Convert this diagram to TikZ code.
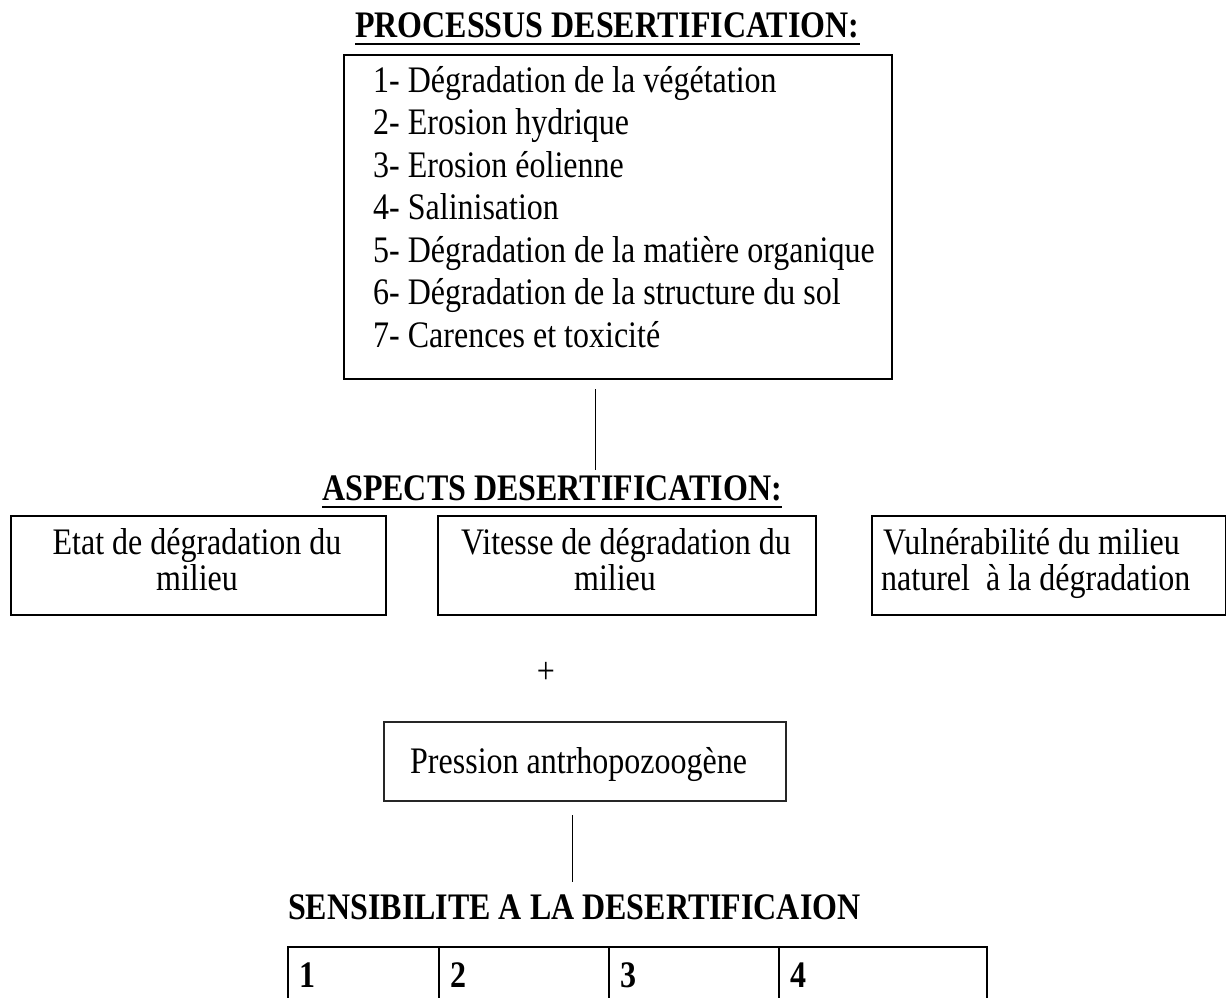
\documentclass[tikz,border=0pt]{standalone}
\usepackage{fontspec}
\usepackage{graphicx}
\setmainfont{Liberation Serif}
\newcommand{\vs}[1]{\scalebox{1}[1.17]{#1}}
\begin{document}
\begin{tikzpicture}[x=1pt,y=-1pt,
  box/.style={draw, line width=2pt, inner sep=0pt, anchor=north west},
  thinbox/.style={draw=black!85, line width=1.5pt, inner sep=0pt, anchor=north west},
  body/.style={font=\fontsize{32}{37}\selectfont, inner sep=0pt},
  ttl/.style={font=\bfseries\fontsize{32}{37}\selectfont, inner sep=0pt, anchor=base west},
  uline/.style={line width=2.6pt},
  conn/.style={line width=1pt},
  cell/.style={draw, line width=2pt, inner sep=0pt, anchor=north west, minimum height=70}]
\useasboundingbox (0,0) rectangle (1226,997);

% Title 1
\node[ttl] (t1) at (355,37) {\vs{PROCESSUS DESERTIFICATION:}};
\draw[uline] ([yshift=-7pt]t1.base west) -- ([yshift=-7pt]t1.base east);

% Process box
\node[box, minimum width=548, minimum height=324] (proc) at (343,54) {};
\foreach \i/\t in {0/{1- Dégradation de la végétation},
                   1/{2- Erosion hydrique},
                   2/{3- Erosion éolienne},
                   3/{4- Salinisation},
                   4/{5- Dégradation de la matière organique},
                   5/{6- Dégradation de la structure du sol},
                   6/{7- Carences et toxicité}}
  \node[body, anchor=base west] (p\i) at (373,{92+42.5*\i}) {\vs{\t}};

% connector 1
\coordinate (c1a) at (595,389);
\coordinate (c1b) at (595,470);
\draw[conn] (c1a) -- (c1b);

% Title 2
\node[ttl] (t2) at (322,500) {\vs{ASPECTS DESERTIFICATION:}};
\draw[uline] ([yshift=-7pt]t2.base west) -- ([yshift=-7pt]t2.base east);

% Aspect boxes
\node[box, minimum width=375, minimum height=99] (a) at (10,515) {};
\node[body, anchor=base] (a1) at (197,554) {\vs{Etat de dégradation du}};
\node[body, anchor=base] (a2) at (197,590) {\vs{milieu}};

\node[box, minimum width=378, minimum height=99] (b) at (437,515) {};
\node[body, anchor=base] (b1) at (626,554) {\vs{Vitesse de dégradation du}};
\node[body, anchor=base] (b2) at (615,590) {\vs{milieu}};

\node[box, minimum width=354, minimum height=99] (c) at (871,515) {};
\node[body, anchor=base west] (c1) at (883,554) {\vs{Vulnérabilité du milieu}};
\node[body, anchor=base west] (c2) at (881,590) {\vs{naturel\ \ à la dégradation}};

% plus
\node[body] (plus) at (546,673) {\vs{+}};

% Pression box
\node[thinbox, minimum width=402, minimum height=79] (d) at (383,721) {};
\node[body, anchor=base west] (d1) at (410,773) {\vs{Pression antrhopozoogène}};

% connector 2
\coordinate (c2a) at (572,815);
\coordinate (c2b) at (572,882);
\draw[conn] (c2a) -- (c2b);

% Sensibilite
\node[ttl] (s) at (288,919) {\vs{SENSIBILITE A LA DESERTIFICAION}};

% table
\node[cell, minimum width=151] (k1) at (287,946) {};
\node[cell, minimum width=170] (k2) at (438,946) {};
\node[cell, minimum width=170] (k3) at (608,946) {};
\node[cell, minimum width=208] (k4) at (778,946) {};
\node[ttl] (l1) at (299,987) {\vs{1}};
\node[ttl] (l2) at (450,987) {\vs{2}};
\node[ttl] (l3) at (620,987) {\vs{3}};
\node[ttl] (l4) at (790,987) {\vs{4}};
\end{tikzpicture}
\end{document}
